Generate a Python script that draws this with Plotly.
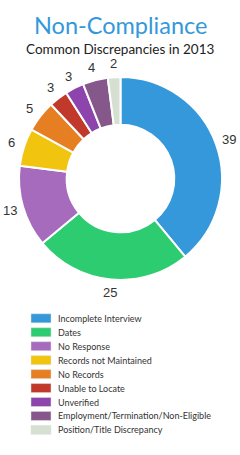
import math
import plotly.graph_objects as go

labels = ["Incomplete Interview", "Dates", "No Response", "Records not Maintained",
          "No Records", "Unable to Locate", "Unverified",
          "Employment/Termination/Non-Eligible", "Position/Title Discrepancy"]
values = [39, 25, 13, 6, 5, 3, 3, 4, 2]
colors = ["#3498db", "#2ecc71", "#a66bbd", "#f1c40f", "#e67e22", "#c0392b",
          "#8e44ad", "#85578a", "#d6e0d2"]

W, H = 240, 455
cx, cy, r = 120.5, 178.5, 101.5
label_r = 115


def px(x):
    return x / W


def py(y):
    return 1 - y / H


fig = go.Figure(go.Pie(
    labels=labels, values=values, sort=False, direction="clockwise", rotation=0,
    hole=0.53,
    marker=dict(colors=colors, line=dict(color="white", width=2)),
    textinfo="none",
    domain=dict(x=[px(cx - r), px(cx + r)], y=[py(cy + r), py(cy - r)]),
    showlegend=False,
))

shapes = []
annotations = []

# value labels placed radially just outside each slice (no leader lines)
total = sum(values)
cum = 0
for v in values:
    mid = (cum + v / 2) / total * 2 * math.pi
    cum += v
    x = cx + label_r * math.sin(mid)
    y = cy - label_r * math.cos(mid)
    annotations.append(dict(text=str(v), x=px(x), y=py(y), xref="paper", yref="paper",
                            xanchor="center", yanchor="middle", showarrow=False,
                            font=dict(family="Liberation Sans, Arial", size=13,
                                      color="#333333")))

# custom legend built from labels/colors
leg_top, leg_step = 318.3, 13.95
for i, (lab, col) in enumerate(zip(labels, colors)):
    yc = leg_top + i * leg_step
    shapes.append(dict(type="rect", xref="paper", yref="paper",
                       x0=px(31), x1=px(51), y0=py(yc - 4.5), y1=py(yc + 4.5),
                       fillcolor=col, line=dict(width=0.5, color="#e0e0e0")))
    annotations.append(dict(text=lab, x=px(56), y=py(yc), xref="paper", yref="paper",
                            xanchor="left", yanchor="middle", showarrow=False,
                            font=dict(family="Lato", size=9, color="#333333")))

annotations += [
    dict(text="Non-Compliance", x=0.5, y=py(25), xref="paper", yref="paper",
         xanchor="center", yanchor="middle", showarrow=False,
         font=dict(family="Lato", size=23.5, color="#3498db")),
    dict(text="Common Discrepancies in 2013", x=0.5, y=py(49), xref="paper", yref="paper",
         xanchor="center", yanchor="middle", showarrow=False,
         font=dict(family="Lato", size=13.5, color="#222222")),
]

fig.update_layout(
    width=W, height=H, margin=dict(l=0, r=0, t=0, b=0),
    paper_bgcolor="white", plot_bgcolor="white",
    font=dict(family="Lato", color="#333333"),
    showlegend=False,
    shapes=shapes, annotations=annotations,
)

fig.write_html("out.html")
